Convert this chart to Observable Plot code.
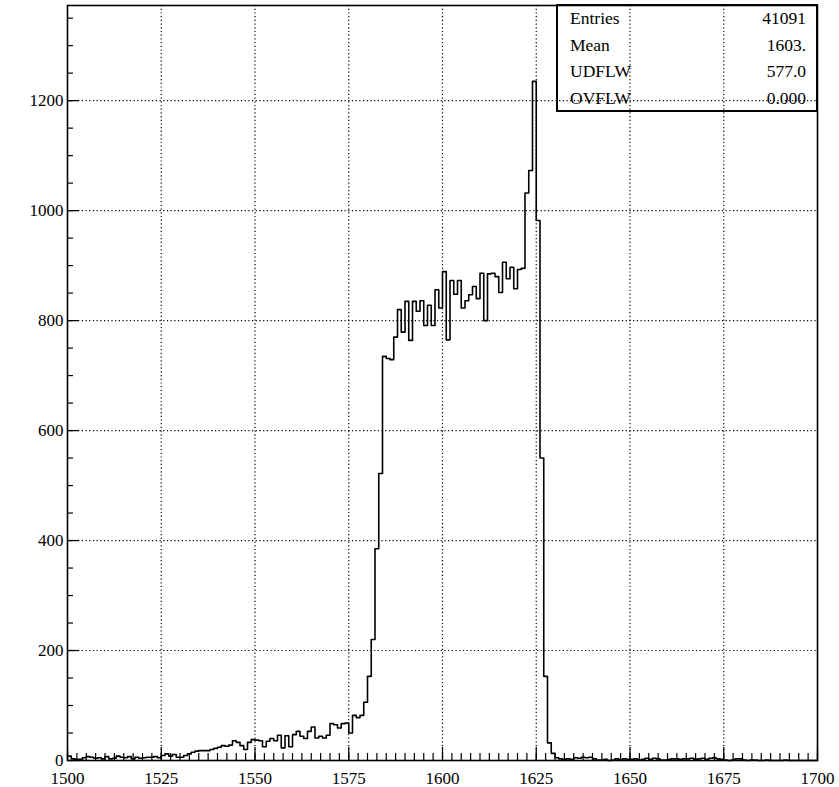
<!DOCTYPE html>
<html><head><meta charset="utf-8">
<script src="https://cdn.jsdelivr.net/npm/d3@7"></script>
<script src="https://cdn.jsdelivr.net/npm/@observablehq/plot@0.6"></script>
<style>
body{margin:0;background:#fff;}
#chart{position:relative;width:839px;height:787px;}
#chart svg text{font-family:"Liberation Serif","Times New Roman",serif !important;}
</style></head><body><div id="chart"></div>
<script>
const binLow = 1500;
const binWidth = 1;
const counts = [
  8,3,2,2,5,7,6,4,5,3,
  7,3,4,8,6,5,7,3,6,4,
  5,6,6,7,5,9,12,8,11,6,
  6,9,12,15,17,18,18,18,20,22,
  24,27,26,28,36,33,27,20,33,38,
  37,36,25,35,40,36,46,23,45,25,
  47,53,44,40,53,61,41,44,41,46,
  67,65,59,67,68,50,82,78,82,106,
  153,220,385,522,735,731,729,770,820,779,
  835,764,835,817,836,791,828,791,856,823,
  889,765,873,848,873,823,836,847,862,840,
  886,800,885,886,880,851,906,876,897,858,
  893,895,1032,1073,1235,982,550,153,32,13,
  5,3,2,3,2,5,4,6,5,6,
  3,1,1,2,0,1,3,1,3,2,
  2,3,1,2,4,2,4,3,1,1,
  2,3,3,2,3,3,4,2,3,4,
  2,4,5,3,2,1,0,1,3,3,
  1,0,1,1,0,0,1,0,0,0,
  0,1,0,0,0,0,0,0,0,0
];
const xMajorTicks = [1500,1525,1550,1575,1600,1625,1650,1675,1700];
const xMinorTicks = [1500,1502.5,1505,1507.5,1510,1512.5,1515,1517.5,1520,1522.5,1525,1527.5,1530,1532.5,1535,1537.5,1540,1542.5,1545,1547.5,1550,1552.5,1555,1557.5,1560,1562.5,1565,1567.5,1570,1572.5,1575,1577.5,1580,1582.5,1585,1587.5,1590,1592.5,1595,1597.5,1600,1602.5,1605,1607.5,1610,1612.5,1615,1617.5,1620,1622.5,1625,1627.5,1630,1632.5,1635,1637.5,1640,1642.5,1645,1647.5,1650,1652.5,1655,1657.5,1660,1662.5,1665,1667.5,1670,1672.5,1675,1677.5,1680,1682.5,1685,1687.5,1690,1692.5,1695,1697.5,1700];
const yMajorTicks = [0,200,400,600,800,1000,1200];
const yMinorTicks = [0,50,100,150,200,250,300,350,400,450,500,550,600,650,700,750,800,850,900,950,1000,1050,1100,1150,1200,1250,1300,1350];
const xDomain = [1500, 1700];
const yDomain = [0, 1373];
const statNames = ["Entries","Mean","UDFLW","OVFLW"];
const statValues = ["41091","1603.","577.0","0.000"];

const steps = counts.map((c, i) => ({x: binLow + i * binWidth, y: c}));
steps.push({x: binLow + counts.length * binWidth, y: counts[counts.length - 1]});

const FONT = "'Liberation Serif', 'Times New Roman', serif";
const gridStyle = {stroke: "black", strokeOpacity: 1, strokeWidth: 1.2, strokeDasharray: "1.2,2.5"};

const chart = Plot.plot({
  width: 839, height: 787,
  marginLeft: 67, marginRight: 22, marginTop: 5, marginBottom: 27,
  style: {fontFamily: FONT, fontSize: "17px", color: "black", background: "white"},
  x: {domain: xDomain, label: null},
  y: {domain: yDomain, label: null},
  marks: [
    Plot.gridX(xMajorTicks.slice(1, -1), gridStyle),
    Plot.gridY(yMajorTicks.slice(1), gridStyle),
    Plot.axisX(xMinorTicks, {tickSize: -7, text: null, label: null, strokeWidth: 1.2}),
    Plot.axisX(xMajorTicks, {tickSize: -13, text: null, label: null, strokeWidth: 1.2}),
    Plot.axisX(xMajorTicks, {tickSize: 0, tickPadding: 11, label: null, tickFormat: d => String(d), fontSize: 17, fontFamily: FONT}),
    Plot.axisY(yMinorTicks, {tickSize: -6, text: null, label: null, strokeWidth: 1.2}),
    Plot.axisY(yMajorTicks, {tickSize: -12, text: null, label: null, strokeWidth: 1.2}),
    Plot.axisY(yMajorTicks, {tickSize: 0, tickPadding: 4, label: null, tickFormat: d => String(d), fontSize: 17, fontFamily: FONT}),
    Plot.line(steps, {x: "x", y: "y", curve: "step-after", stroke: "black", strokeWidth: 1.6}),
    Plot.frame({stroke: "black", strokeWidth: 1.6})
  ]
});

// statistics box (top-right, anchored to the plot frame)
const svgSel = d3.select(chart);
const xr = chart.scale("x").range, yr = chart.scale("y").range;
const frameRight = Math.max(...xr), frameTop = Math.min(...yr);
const boxW = 260, rowH = 26.5;
const boxH = rowH * statNames.length;
const gBox = svgSel.append("g").attr("font-family", FONT).attr("font-size", "17.5px");
gBox.append("rect").attr("x", frameRight - boxW).attr("y", frameTop).attr("width", boxW).attr("height", boxH)
  .attr("fill", "none").attr("stroke", "black").attr("stroke-width", 2);
statNames.forEach((n, i) => {
  gBox.append("text").attr("x", frameRight - boxW + 13).attr("y", frameTop + rowH * i + rowH / 2 + 6)
    .attr("text-anchor", "start").text(n);
  gBox.append("text").attr("x", frameRight - 11).attr("y", frameTop + rowH * i + rowH / 2 + 6)
    .attr("text-anchor", "end").text(statValues[i]);
});

document.getElementById("chart").appendChild(chart);
</script></body></html>
